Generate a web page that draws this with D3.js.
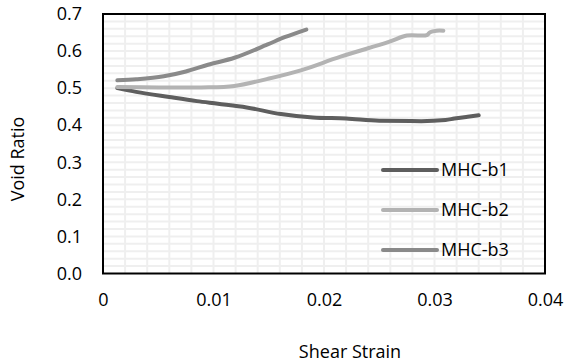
<!DOCTYPE html>
<html>
<head>
<meta charset="utf-8">
<script src="https://cdn.jsdelivr.net/npm/d3@7"></script>
<style>
  body { margin: 0; background: #fff; }
  text { font-family: "Open Sans", Lato, sans-serif; fill: #000; }
</style>
</head>
<body>
<div id="chart"></div>
<script>
// data: [shear strain, void ratio]
const seriesNames = ["MHC-b1", "MHC-b2", "MHC-b3"]
const b1 = [[0.0013, 0.500], [0.003, 0.490], [0.006, 0.476], [0.0085, 0.465], [0.0104, 0.458],
  [0.013, 0.448], [0.0161, 0.430], [0.019, 0.421], [0.022, 0.418], [0.025, 0.412],
  [0.0288, 0.411], [0.031, 0.414], [0.0318, 0.418], [0.033, 0.423], [0.034, 0.427]]
const b2 = [[0.0013, 0.503], [0.005, 0.502], [0.0089, 0.502], [0.0119, 0.506], [0.0149, 0.525],
  [0.0179, 0.548], [0.0215, 0.585], [0.0258, 0.624], [0.0275, 0.642], [0.0293, 0.643],
  [0.0296, 0.651], [0.0302, 0.655], [0.0308, 0.655]]
const b3 = [[0.0013, 0.521], [0.003, 0.524], [0.0055, 0.532], [0.0075, 0.545], [0.0095, 0.563],
  [0.0119, 0.582], [0.0149, 0.618], [0.0165, 0.638], [0.0184, 0.658]]
const xTicks = [0, 0.01, 0.02, 0.03, 0.04]
const yTicks = [0, 0.1, 0.2, 0.3, 0.4, 0.5, 0.6, 0.7]

const width = 565, height = 363
const plotLeft = 103, plotRight = 545, plotTop = 14, plotBottom = 273.5
const fontSize = 18

const svg = d3.select("#chart").append("svg")
  .attr("width", width)
  .attr("height", height)

const x = d3.scaleLinear().domain([0, 0.04]).range([plotLeft, plotRight])
const y = d3.scaleLinear().domain([0, 0.7]).range([plotBottom, plotTop])

// minor gridlines
svg.append("g")
  .selectAll("line")
  .data(d3.range(1, 20).map(i => i * 0.002))
  .join("line")
  .attr("x1", d => x(d)).attr("x2", d => x(d))
  .attr("y1", plotTop).attr("y2", plotBottom)
  .attr("stroke", "#efefef")
  .attr("stroke-width", 2)

svg.append("g")
  .selectAll("line")
  .data(d3.range(1, 35).map(i => i * 0.02))
  .join("line")
  .attr("x1", plotLeft).attr("x2", plotRight)
  .attr("y1", d => y(d)).attr("y2", d => y(d))
  .attr("stroke", "#efefef")
  .attr("stroke-width", 2)

// axes (labels only, no tick marks)
const xAxis = svg.append("g")
  .attr("transform", `translate(0,${plotBottom})`)
  .call(d3.axisBottom(x).tickValues(xTicks).tickSize(0).tickPadding(20)
    .tickFormat(d => d === 0 ? "0" : d3.format(".2f")(d)))
xAxis.select(".domain").remove()
xAxis.selectAll("text").attr("font-size", fontSize)
xAxis.attr("font-family", null)

const yAxis = svg.append("g")
  .attr("transform", `translate(${plotLeft},0)`)
  .call(d3.axisLeft(y).tickValues(yTicks).tickSize(0).tickPadding(21).tickFormat(d3.format(".1f")))
yAxis.select(".domain").remove()
yAxis.selectAll("text").attr("font-size", fontSize)
yAxis.attr("font-family", null)

// plot border
svg.append("rect")
  .attr("x", plotLeft).attr("y", plotTop)
  .attr("width", plotRight - plotLeft).attr("height", plotBottom - plotTop)
  .attr("fill", "none")
  .attr("stroke", "#000")
  .attr("stroke-width", 2)

const color = d3.scaleOrdinal()
  .domain(seriesNames)
  .range(["#5e5e5e", "#b3b3b3", "#8a8a8a"])

const line = d3.line()
  .x(d => x(d[0]))
  .y(d => y(d[1]))
  .curve(d3.curveMonotoneX)

const lineLoose = d3.line()
  .x(d => x(d[0]))
  .y(d => y(d[1]))
  .curve(d3.curveCatmullRom)

const allSeries = [b1, b2, b3]
svg.append("g")
  .selectAll("path")
  .data(allSeries)
  .join("path")
  .attr("d", (d, i) => i === 1 ? lineLoose(d) : line(d))
  .attr("fill", "none")
  .attr("stroke", (d, i) => color(seriesNames[i]))
  .attr("stroke-width", 4)
  .attr("stroke-linecap", "round")
  .attr("stroke-linejoin", "round")

// legend
const legend = svg.append("g")
  .selectAll("g")
  .data(seriesNames)
  .join("g")
  .attr("transform", (d, i) => `translate(383,${170 + i * 40})`)

legend.append("line")
  .attr("x1", 0).attr("x2", 54)
  .attr("stroke", d => color(d))
  .attr("stroke-width", 4)
  .attr("stroke-linecap", "round")

legend.append("text")
  .attr("x", 58)
  .attr("dy", "0.35em")
  .attr("font-size", fontSize)
  .text(d => d)

// axis titles
svg.append("text")
  .attr("x", 350)
  .attr("y", 358)
  .attr("text-anchor", "middle")
  .attr("font-size", fontSize)
  .text("Shear Strain")

svg.append("text")
  .attr("transform", "translate(24,159) rotate(-90)")
  .attr("text-anchor", "middle")
  .attr("font-size", fontSize)
  .text("Void Ratio")
</script>
</body>
</html>
